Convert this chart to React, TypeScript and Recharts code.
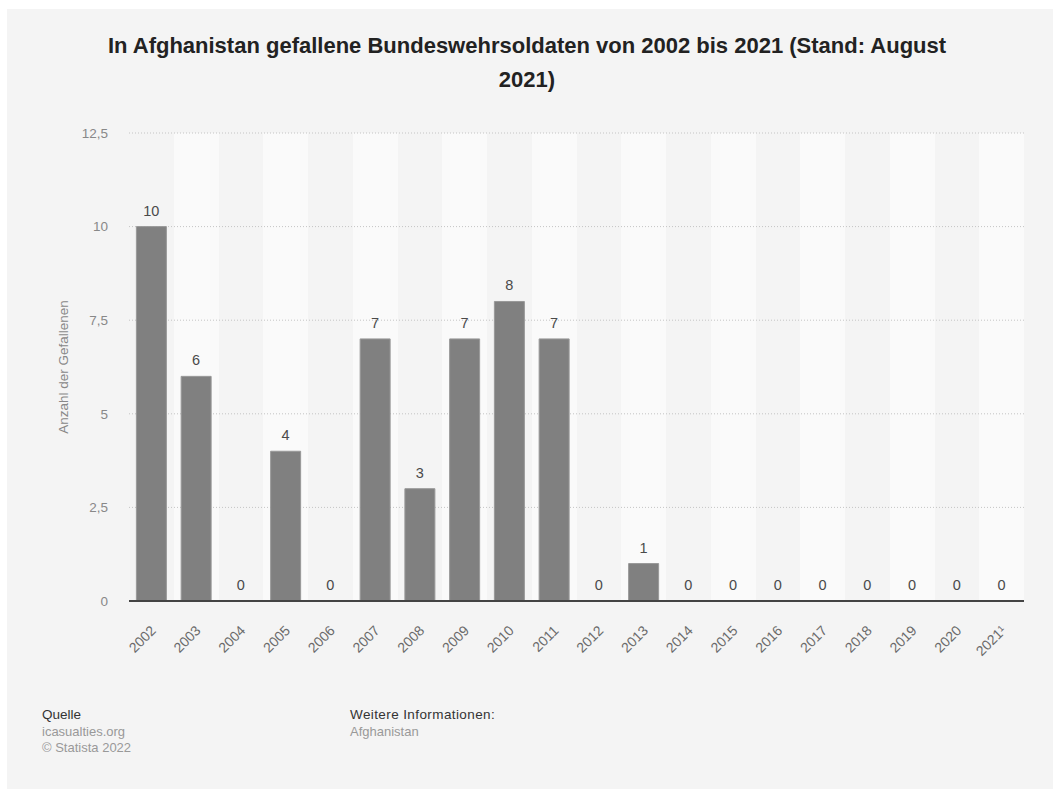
import React from 'react';
import { ComposedChart, Bar, Line, XAxis, YAxis, CartesianGrid, LabelList } from 'recharts';

const years = ['2002', '2003', '2004', '2005', '2006', '2007', '2008', '2009', '2010', '2011', '2012', '2013', '2014', '2015', '2016', '2017', '2018', '2019', '2020', '2021¹'];
const fallen = [10, 6, 0, 4, 0, 7, 3, 7, 8, 7, 0, 1, 0, 0, 0, 0, 0, 0, 0, 0];
const yTicks = [0, 2.5, 5, 7.5, 10, 12.5];

const data = years.map((year, i) => ({ year, value: fallen[i] }));

const FONT = '"Liberation Sans", Arial, Helvetica, sans-serif';

const fmt = (v: number) => String(v).replace('.', ',');

// band starts for the alternating column background
const stripePoints = ({ xAxis, offset }: any) =>
    years.map((y, i) => {
        const s = xAxis && xAxis.scale;
        const v = typeof s === 'function' ? s(y) : undefined;
        return typeof v === 'number' && !isNaN(v) ? v : offset.left + (i * offset.width) / years.length;
    });

const YearTick = (props: any) => {
    const { x, y, payload } = props;
    return (
        <g transform={`translate(${x + 2},${y + 19})`}>
            <text transform="rotate(-45)" textAnchor="end" dy="0.35em" fill="#6a6a6a" fontSize={14} fontFamily={FONT}>
                {payload.value}
            </text>
        </g>
    );
};

const App: React.FC = () => {
    return (
        <div style={{ position: 'absolute', left: 7, top: 9, width: 1046, height: 780, background: '#f4f4f4', fontFamily: FONT }}>
            <div style={{ position: 'absolute', left: 0, top: 20, width: 1040, textAlign: 'center', fontSize: 22, fontWeight: 'bold', lineHeight: '34px', color: '#222' }}>
                In Afghanistan gefallene Bundeswehrsoldaten von 2002 bis 2021 (Stand: August
                <br />
                2021)
            </div>
            <div style={{ position: 'absolute', left: 0, top: 0 }}>
                <ComposedChart width={1046} height={700} data={data} margin={{ top: 124, right: 29, bottom: 48, left: 42 }} barCategoryGap="16.5%">
                    <CartesianGrid horizontal={false} vertical verticalCoordinatesGenerator={stripePoints} verticalFill={['#f4f4f4', '#fafafa']} stroke="none" />
                    <CartesianGrid vertical={false} stroke="#c4c4c4" strokeDasharray="1 2" />
                    <XAxis dataKey="year" interval={0} tickLine={false} axisLine={{ stroke: '#444', strokeWidth: 2 }} height={60} tick={<YearTick />} />
                    <YAxis
                        domain={[0, 12.5]}
                        ticks={yTicks}
                        interval={0}
                        width={80}
                        axisLine={false}
                        tickLine={false}
                        tickSize={0}
                        tickMargin={21}
                        tickFormatter={fmt}
                        tick={{ fill: '#888', fontSize: 13.5, fontFamily: FONT }}
                        label={{ value: 'Anzahl der Gefallenen', angle: -90, position: 'center', dx: -26, fill: '#888', fontSize: 13.5, fontFamily: FONT }}
                    />
                    <Bar dataKey="value" fill="#808080" stroke="#999" strokeWidth={1} isAnimationActive={false} />
                    <Line dataKey="value" stroke="none" dot={false} activeDot={false} isAnimationActive={false}>
                        <LabelList dataKey="value" position="top" offset={11} fill="#4a4a4a" fontSize={14.5} fontFamily={FONT} />
                    </Line>
                </ComposedChart>
            </div>
            <div style={{ position: 'absolute', left: 35, top: 698, fontSize: 13.5, lineHeight: '16.5px' }}>
                <div style={{ color: '#333' }}>Quelle</div>
                <div style={{ color: '#999', fontSize: 13 }}>icasualties.org</div>
                <div style={{ color: '#999', fontSize: 13 }}>© Statista 2022</div>
            </div>
            <div style={{ position: 'absolute', left: 343, top: 698, fontSize: 13.5, lineHeight: '16.5px' }}>
                <div style={{ color: '#333', letterSpacing: 0.4 }}>Weitere Informationen:</div>
                <div style={{ color: '#999', fontSize: 13 }}>Afghanistan</div>
            </div>
        </div>
    );
};

export default App;
